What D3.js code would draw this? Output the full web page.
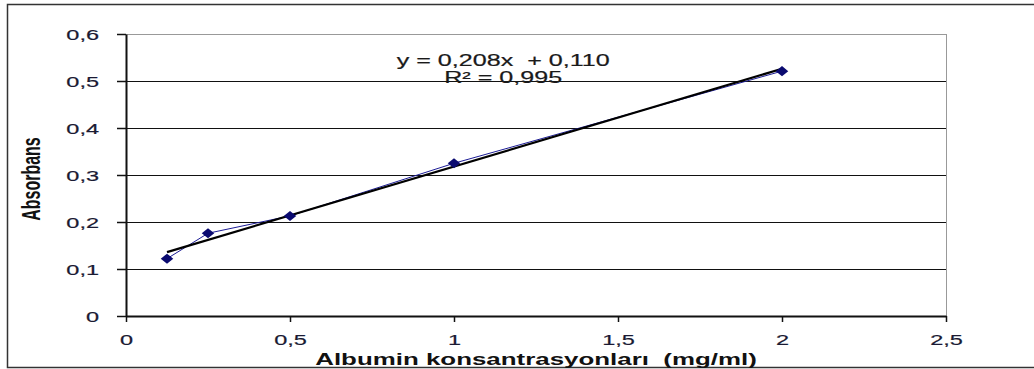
<!DOCTYPE html>
<html>
<head>
<meta charset="utf-8">
<script src="https://cdn.jsdelivr.net/npm/d3@7"></script>
<style>
  body { margin: 0; background: #fff; }
  svg { display: block; }
  text { white-space: pre; }
</style>
</head>
<body>
<div id="chart"></div>
<script>
// data
var concentrations = [0.125, 0.25, 0.5, 1, 2];
var absorbances = [0.122, 0.176, 0.213, 0.325, 0.521];
var xTicks = [0, 0.5, 1, 1.5, 2, 2.5];
var yTicks = [0, 0.1, 0.2, 0.3, 0.4, 0.5, 0.6];
var slope = 0.208;
var intercept = 0.110;
var equationLines = ["y = 0,208x  + 0,110", "R² = 0,995"];

var svgWidth = 1034;
var svgHeight = 369;

// the original picture is stretched sideways, so the text is too
var stretch = 1.57;
var fontFamily = "Arial, 'Liberation Sans', sans-serif";

var margin = { top: 34, right: 88, bottom: 53, left: 126 };
var width = svgWidth - margin.left - margin.right;
var height = svgHeight - margin.top - margin.bottom;

var fmt = function(d) { return String(d).replace(".", ","); };

var svg = d3.select("#chart").append("svg")
    .attr("width", svgWidth)
    .attr("height", svgHeight);

// outer frame
svg.append("rect")
    .attr("x", 7.5).attr("y", 4.5)
    .attr("width", 1040).attr("height", 363)
    .attr("fill", "none")
    .attr("stroke", "#333")
    .attr("stroke-width", 1.5);

var chartGroup = svg.append("g")
    .attr("transform", `translate(${margin.left}, ${margin.top})`);

var xScale = d3.scaleLinear().domain([0, 2.5]).range([0, width]);
var yScale = d3.scaleLinear().domain([0, 0.6]).range([height, 0]);

// gridlines
chartGroup.selectAll(".grid")
    .data(yTicks.filter(d => d > 0))
    .enter().append("line")
    .attr("x1", 0).attr("x2", width)
    .attr("y1", d => Math.round(yScale(d)) + 0.5)
    .attr("y2", d => Math.round(yScale(d)) + 0.5)
    .attr("stroke", d => d === 0.6 ? "#999" : "#111")
    .attr("stroke-width", 1);

// right border of plot area
chartGroup.append("line")
    .attr("x1", width + 0.5).attr("x2", width + 0.5)
    .attr("y1", 0).attr("y2", height)
    .attr("stroke", "#999");

// axes
var bottomAxis = d3.axisBottom(xScale).tickValues(xTicks).tickFormat(fmt)
    .tickSizeInner(6).tickSizeOuter(0).tickPadding(12);
var leftAxis = d3.axisLeft(yScale).tickValues(yTicks).tickFormat(fmt)
    .tickSizeInner(9).tickSizeOuter(0);

var xAxis = chartGroup.append("g")
    .attr("transform", `translate(0, ${height})`)
    .call(bottomAxis);
var yAxis = chartGroup.append("g").call(leftAxis);

[xAxis, yAxis].forEach(function(ax) {
    ax.select(".domain").attr("stroke", "#111").attr("stroke-width", 2);
    ax.selectAll(".tick line").attr("stroke", "#111").attr("stroke-width", 1.5);
    ax.selectAll("text")
        .attr("font-family", fontFamily)
        .attr("font-size", 15)
        .attr("fill", "#1a1a33")
        .attr("stroke", "#1a1a33")
        .attr("stroke-width", 0.2)
        .attr("transform", `scale(${stretch}, 1)`);
});
yAxis.selectAll("text")
    .attr("x", -27 / stretch)
    .attr("dy", "0.36em");

// data series
var points = concentrations.map((c, i) => ({ x: c, y: absorbances[i] }));

var line = d3.line()
    .x(d => xScale(d.x))
    .y(d => yScale(d.y));

chartGroup.append("path")
    .datum(points)
    .attr("d", line)
    .attr("fill", "none")
    .attr("stroke", "#1c1c96")
    .attr("stroke-width", 1);

// trend line
var xMin = d3.min(concentrations);
var xMax = d3.max(concentrations);
chartGroup.append("line")
    .attr("x1", xScale(xMin)).attr("y1", yScale(slope * xMin + intercept))
    .attr("x2", xScale(xMax)).attr("y2", yScale(slope * xMax + intercept))
    .attr("stroke", "#000")
    .attr("stroke-width", 2.2);

// diamond markers
chartGroup.selectAll(".marker")
    .data(points)
    .enter().append("path")
    .attr("d", d3.symbol().type(d3.symbolDiamond2).size(64))
    .attr("transform", d => `translate(${xScale(d.x)}, ${yScale(d.y)}) scale(1.25, 1)`)
    .attr("fill", "#0a0a70");

// equation
chartGroup.selectAll(".eq")
    .data(equationLines)
    .enter().append("text")
    .attr("transform", (d, i) => `translate(${xScale(1.15)}, ${yScale(0.5) - 15 + i * 17}) scale(${stretch}, 1)`)
    .attr("text-anchor", "middle")
    .attr("font-family", fontFamily)
    .attr("font-size", 16)
    .attr("fill", "#1a1a1a")
    .attr("stroke", "#1a1a1a")
    .attr("stroke-width", 0.2)
    .text(d => d);

// axis titles
svg.append("text")
    .attr("transform", `translate(536, 365) scale(${stretch}, 1)`)
    .attr("text-anchor", "middle")
    .attr("font-family", fontFamily)
    .attr("font-weight", "bold")
    .attr("font-size", 16.5)
    .attr("fill", "#111")
    .text("Albumin konsantrasyonları  (mg/ml)");

svg.append("text")
    .attr("transform", `translate(40, 179) rotate(-90) scale(1, ${stretch})`)
    .attr("text-anchor", "middle")
    .attr("font-family", fontFamily)
    .attr("font-weight", "bold")
    .attr("font-size", 16)
    .attr("fill", "#111")
    .text("Absorbans");
</script>
</body>
</html>
